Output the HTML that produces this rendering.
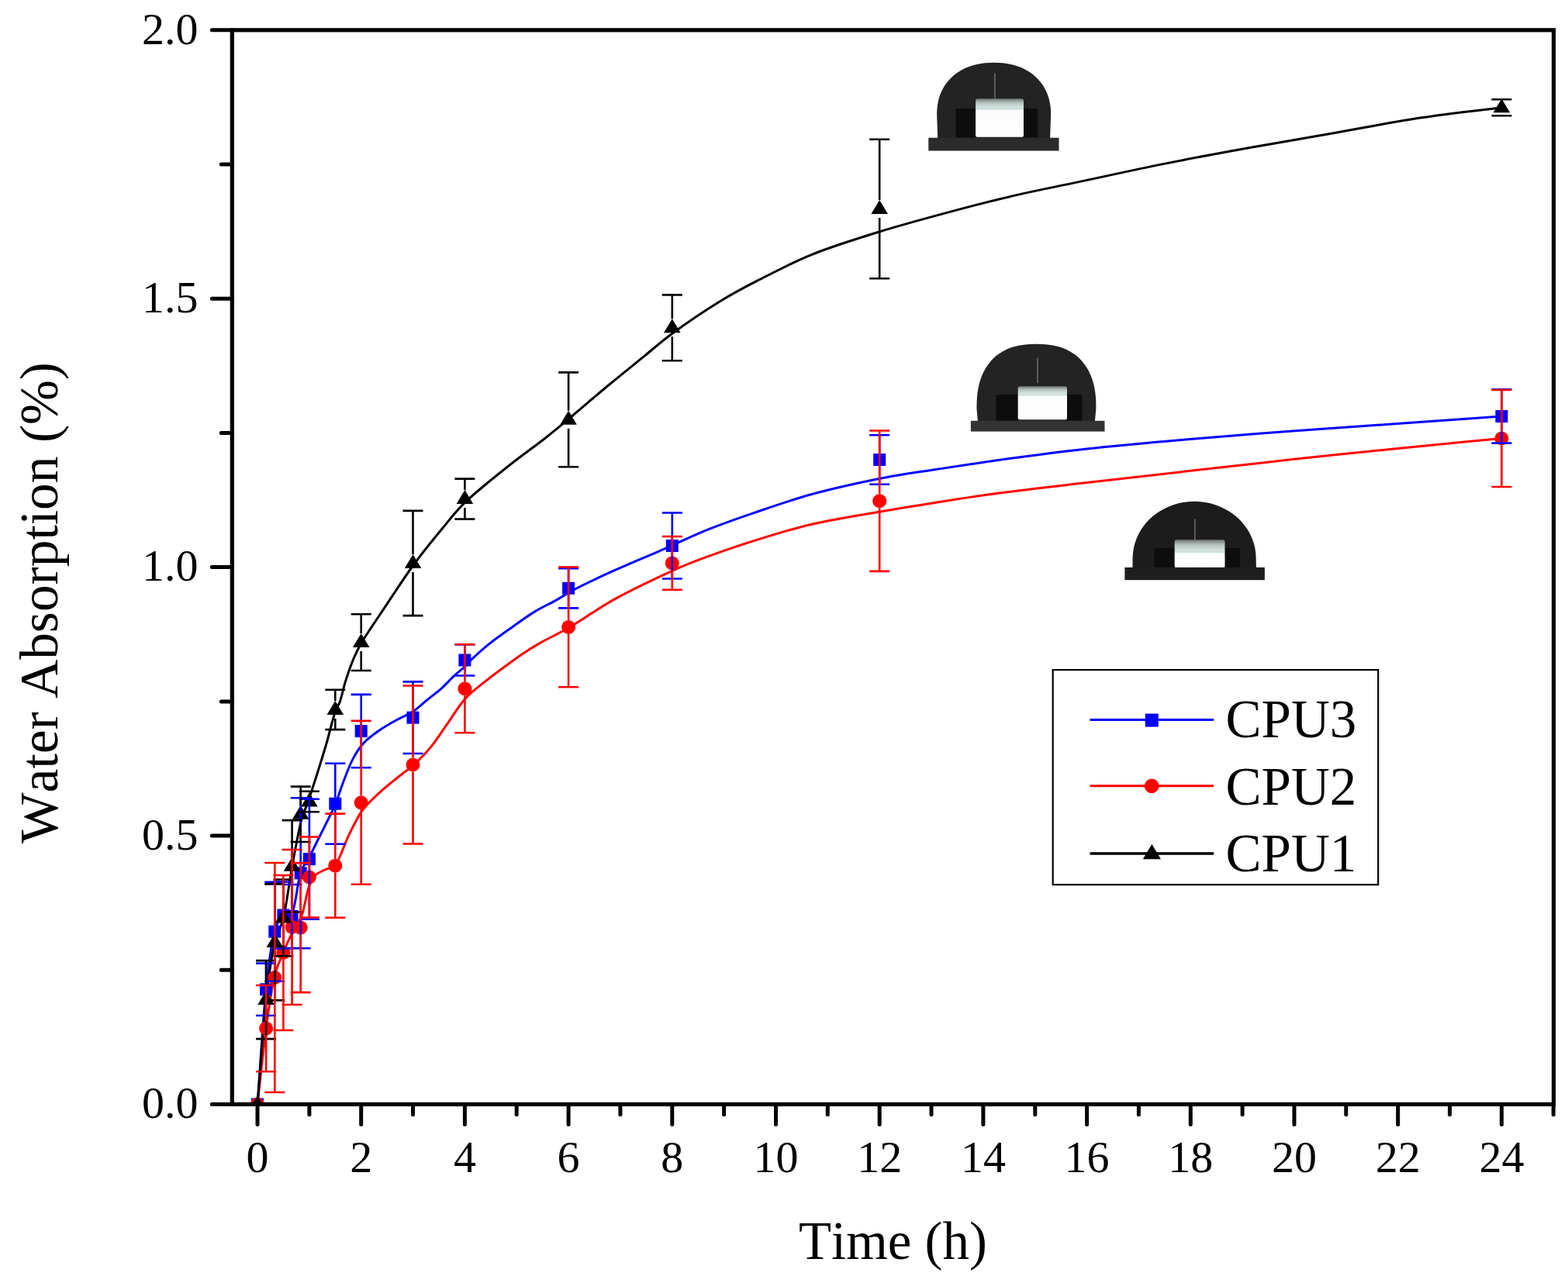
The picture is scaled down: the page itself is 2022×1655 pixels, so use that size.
<!DOCTYPE html>
<html><head><meta charset="utf-8"><title>Water Absorption</title>
<style>
html,body{margin:0;padding:0;background:#fff;}
body{width:2022px;height:1655px;overflow:hidden;}
svg{display:block;}
text{font-family:"Liberation Serif","Times New Roman",serif;fill:#000;font-kerning:none;}
</style></head><body>
<svg width="2022" height="1655" viewBox="0 0 2022 1655">
<rect width="2022" height="1655" fill="#fff"/>

<defs><linearGradient id="bg127" x1="0" y1="0" x2="0" y2="1"><stop offset="0" stop-color="#6e7673"/><stop offset="0.103" stop-color="#b4c0bc"/><stop offset="0.219" stop-color="#d6e2de"/><stop offset="0.257" stop-color="#c4dcdc"/><stop offset="0.317" stop-color="#fbfdfc"/><stop offset="1" stop-color="#ffffff"/></linearGradient></defs><path d="M1209.2,178.2 L1208.15,147.80 1208.29,142.19 1208.72,137.28 1209.44,132.64 1210.43,128.19 1211.70,123.92 1213.25,119.82 1215.07,115.89 1217.16,112.12 1219.50,108.53 1222.10,105.13 1224.94,101.92 1228.01,98.91 1231.32,96.10 1234.84,93.51 1238.57,91.15 1242.51,89.01 1246.64,87.11 1250.96,85.45 1255.46,84.04 1260.14,82.88 1265.01,81.97 1270.11,81.32 1275.49,80.93 1281.65,80.80 1287.81,80.93 1293.19,81.32 1298.29,81.97 1303.16,82.88 1307.84,84.04 1312.34,85.45 1316.66,87.11 1320.79,89.01 1324.73,91.15 1328.46,93.51 1331.98,96.10 1335.29,98.91 1338.36,101.92 1341.20,105.13 1343.80,108.53 1346.14,112.12 1348.23,115.89 1350.05,119.82 1351.60,123.92 1352.87,128.19 1353.86,132.64 1354.58,137.28 1355.01,142.19 1355.15,147.80 L1354.1,178.2 Z" fill="#232323"/><rect x="1232.4" y="140" width="25.7" height="37.7" fill="#0d0d0d"/><rect x="1320" y="140" width="18.3" height="37.7" fill="#0d0d0d"/><rect x="1258.1" y="127.3" width="61.9" height="49.4" rx="2.5" fill="url(#bg127)"/><path d="M1282.9,94.6V127" stroke="#707070" stroke-width="1.5"/><rect x="1197.3" y="177.7" width="168.2" height="16.8" fill="#2b2b2b"/>
<defs><linearGradient id="bg498" x1="0" y1="0" x2="0" y2="1"><stop offset="0" stop-color="#6e7673"/><stop offset="0.100" stop-color="#b4c0bc"/><stop offset="0.213" stop-color="#d6e2de"/><stop offset="0.251" stop-color="#c4dcdc"/><stop offset="0.311" stop-color="#fbfdfc"/><stop offset="1" stop-color="#ffffff"/></linearGradient></defs><path d="M1260.9,543.3 L1259.45,526.80 1259.59,518.25 1260.00,511.59 1260.68,505.54 1261.64,499.89 1262.87,494.57 1264.37,489.52 1266.13,484.74 1268.15,480.22 1270.43,475.94 1272.96,471.92 1275.74,468.14 1278.77,464.62 1282.03,461.36 1285.53,458.36 1289.27,455.63 1293.24,453.18 1297.43,451.00 1301.87,449.10 1306.55,447.49 1311.49,446.16 1316.72,445.13 1322.34,444.39 1328.52,443.95 1336.45,443.80 1344.38,443.95 1350.56,444.39 1356.18,445.13 1361.41,446.16 1366.35,447.49 1371.03,449.10 1375.47,451.00 1379.66,453.18 1383.63,455.63 1387.37,458.36 1390.87,461.36 1394.13,464.62 1397.16,468.14 1399.94,471.92 1402.47,475.94 1404.75,480.22 1406.77,484.74 1408.53,489.52 1410.03,494.57 1411.26,499.89 1412.22,505.54 1412.90,511.59 1413.31,518.25 1413.45,526.80 L1411.9,543.3 Z" fill="#232323"/><rect x="1284.5" y="509" width="28.2" height="33.8" fill="#0d0d0d"/><rect x="1376" y="509" width="19.3" height="33.8" fill="#0d0d0d"/><rect x="1312.7" y="498.2" width="63.3" height="43.1" rx="2.5" fill="url(#bg498)"/><path d="M1337.9,461.6V494.3" stroke="#707070" stroke-width="1.5"/><rect x="1251.9" y="542.8" width="172.6" height="13.8" fill="#333"/>
<defs><linearGradient id="bg696" x1="0" y1="0" x2="0" y2="1"><stop offset="0" stop-color="#6e7673"/><stop offset="0.174" stop-color="#b4c0bc"/><stop offset="0.370" stop-color="#d6e2de"/><stop offset="0.435" stop-color="#c4dcdc"/><stop offset="0.495" stop-color="#fbfdfc"/><stop offset="1" stop-color="#ffffff"/></linearGradient></defs><path d="M1460.5,732.4 L1460.65,720.30 1460.82,715.49 1461.33,710.71 1462.18,705.96 1463.36,701.28 1464.87,696.67 1466.70,692.17 1468.85,687.79 1471.30,683.55 1474.05,679.47 1477.08,675.56 1480.38,671.84 1483.94,668.33 1487.73,665.04 1491.75,661.99 1495.98,659.19 1500.40,656.65 1504.99,654.38 1509.73,652.39 1514.60,650.70 1519.57,649.30 1524.64,648.21 1529.77,647.43 1534.95,646.96 1540.15,646.80 1545.35,646.96 1550.53,647.43 1555.66,648.21 1560.73,649.30 1565.70,650.70 1570.57,652.39 1575.31,654.38 1579.90,656.65 1584.32,659.19 1588.55,661.99 1592.57,665.04 1596.36,668.33 1599.92,671.84 1603.22,675.56 1606.25,679.47 1609.00,683.55 1611.45,687.79 1613.60,692.17 1615.43,696.67 1616.94,701.28 1618.12,705.96 1618.97,710.71 1619.48,715.49 1619.65,720.30 L1619.9,732.4 Z" fill="#1c1c1c"/><rect x="1488.5" y="707" width="26.2" height="24.9" fill="#0d0d0d"/><rect x="1579.5" y="707" width="19.7" height="24.9" fill="#0d0d0d"/><rect x="1514.7" y="696.3" width="64.8" height="36.1" rx="2.5" fill="url(#bg696)"/><path d="M1540.9,669.6V698" stroke="#707070" stroke-width="1.5"/><rect x="1450.4" y="731.9" width="180.5" height="16.3" fill="#1e1e1e"/>
<defs><clipPath id="plotclip"><rect x="299.3" y="38.8" width="1704.2" height="1385.7"/></clipPath></defs>
<g clip-path="url(#plotclip)">
<g fill="none" stroke-width="3.0" stroke-linejoin="round">
<path d="M332,1424.5 C335.7,1375.3 338.7,1320.2 343,1277 C346.1,1246 349.2,1222.2 354,1201.7 C356.7,1190.2 361,1185.5 365.4,1181 C368.5,1177.9 374.3,1184.8 376.6,1179 C381.7,1166.2 383.3,1139.8 387.7,1125 C390.4,1115.9 394.4,1114.1 398,1107.3 C402.5,1098.9 407.3,1088.6 412,1079.3 C416.6,1070 421.9,1059.7 425.9,1051.4 C428.8,1045.4 430.4,1042.8 432.9,1036.4 C436.4,1027.5 440,1015.5 443.9,1005.5 C447.6,995.9 451.2,986 455.8,977.6 C459.9,970 464.2,963.5 469.8,957.6 C475.5,951.6 482.9,946.5 489.7,941.7 C496.2,937.2 502.7,933.6 509.7,929.7 C517,925.6 525.7,922.2 532.6,917.7 C539,913.6 543.7,908.6 549.6,903.8 C556,898.6 563.3,893.3 569.5,887.8 C575.3,882.6 580.2,876.8 585.5,871.9 C590.2,867.5 595.4,863.8 599.5,859.9 C602.9,856.7 604,854.4 608.1,850.6 C614.4,844.7 622.7,837.1 630.8,830.6 C639.3,823.8 648.5,817.4 658,810.7 C668.1,803.5 679.3,795.3 689.7,788.9 C699,783.2 708.1,779.3 716.9,774.4 C725.3,769.7 731.3,765.2 741.4,760 C755,753 771.2,745.3 788,737.7 C807.1,729.1 832,718.7 849.1,711.3 C858.6,707.2 859.6,706.7 868,703 C881,697.2 897,689.4 913.4,682.9 C931.8,675.6 951.2,668.7 972.2,661.6 C995.7,653.6 1020.9,644.6 1047,637.5 C1074.8,629.9 1105.9,623.1 1133.8,617.5 C1159.3,612.4 1182.2,609.4 1207.2,605.5 C1233.3,601.4 1257.9,597.5 1287.3,593.5 C1322,588.8 1360.7,583.6 1399.5,579.3 C1441.1,574.8 1484.7,570.9 1528.5,567.1 C1573.8,563.1 1620.7,559.5 1666.9,556 C1713,552.5 1759.9,549.5 1805.4,546.3 C1849.7,543.2 1892.7,540.1 1936.4,537" stroke="#0000ff"/>
<path d="M332,1424.5 C335.8,1391.2 339.4,1355.1 343.4,1324.7 C346.7,1300.1 349.5,1278.4 353.8,1259.7 C356.9,1246.4 361.6,1238.3 365.5,1228.6 C368.9,1220.1 372,1212.9 375.8,1205.2 C379.7,1197.3 385.4,1190.9 388.8,1181.8 C392.8,1171 394.6,1155.8 397.9,1145.5 C400.2,1138.5 402.1,1134 405.7,1129.9 C409,1126.1 414.2,1124.4 418.7,1122 C423.3,1119.5 428.9,1120.9 432.9,1115.2 C439.3,1106 444,1089.2 449.8,1077.3 C455,1066.6 460.2,1055.9 465.8,1047.4 C470.2,1040.7 474.5,1036.8 479.8,1031.5 C485.8,1025.5 493,1019.2 499.7,1013.5 C506.3,1007.9 513.6,1002.3 519.7,997.5 C524.6,993.7 527.7,992.3 532.6,987.6 C539.6,981 548.5,972.2 555.6,963.6 C562.8,954.9 568.5,945.5 575.5,935.7 C583.2,924.9 590.9,911.6 599.5,901.8 C607.2,893 614.2,888.1 624.5,880 C638.2,869.2 657.7,854.9 671.6,845.1 C681,838.4 685.2,835.8 694.3,830.6 C706,823.9 719.1,818.1 733.8,809.5 C752.2,798.7 772.1,784.2 793.5,772.4 C816.8,759.6 845.4,746.1 868,735.8 C885.4,727.9 897.1,723.6 913.4,717.6 C931.8,710.9 951.2,704.1 972.2,697.6 C995.7,690.3 1020.9,682.2 1047,676.2 C1074.8,669.8 1106,665.1 1133.8,660.2 C1159.4,655.7 1182.2,652.1 1207.2,648.2 C1233.3,644.1 1257.9,640.1 1287.3,636.2 C1322,631.6 1360.7,627.3 1399.5,622.8 C1441.1,618 1484.7,613 1528.5,608.1 C1573.8,603 1620.7,597.6 1666.9,592.6 C1713,587.6 1759.9,582.8 1805.4,578.2 C1849.7,573.7 1892.7,569.7 1936.4,565.5" stroke="#ff0000"/>
<path d="M332,1424.5 C335.7,1379.7 338.8,1329.8 343,1290 C346.1,1260.6 349.6,1237.9 354,1217 C357.1,1202.6 362.3,1198 365.5,1184 C370,1164.3 373.1,1137.6 377,1116 C380.6,1096.3 384.3,1075.7 388,1060 C390.3,1050.4 392.8,1046.2 395,1040 C396.8,1034.8 398,1032 400,1026 C403,1017 406.6,1005.8 410,995 C413.6,983.4 417.4,971.4 421,959 C424.8,945.8 428.6,929.4 432.3,918 C434.4,911.4 436.5,910.5 438.4,905 C440.9,897.5 442.7,887.9 445.5,879 C448.5,869.5 452.1,859 455.8,850 C459.2,842 461.4,837 466.8,828 C474.8,814.8 485.6,799.3 496.1,783.6 C507.9,766 520.9,745.6 533.7,728 C545.9,711.3 559.2,695.2 571.2,680.7 C581.5,668.3 588.1,659 600.4,647.4 C615.9,632.8 636.7,616.3 654.6,602 C671.5,588.5 689.4,576 704.6,564 C717.3,554 726.2,546.3 738.5,536 C753,523.8 769.7,509.3 785.2,496.5 C800.2,484.1 815.6,471.8 829.9,460.2 C842.9,449.6 852.7,440.6 867.2,430 C885,417.1 907.4,401.8 926.8,389.8 C944.2,379 958.9,371.2 977.5,361.7 C999,350.7 1022.1,338.3 1047,328.3 C1074.2,317.4 1103.6,308.3 1133.8,299 C1166,289.1 1202.2,279.4 1234,270.9 C1262.3,263.3 1287.6,257 1314,250.9 C1339.6,245 1361.8,240.9 1390,234.9 C1424.1,227.7 1463.8,218.8 1500.8,211.4 C1537.7,204 1574.6,197.3 1611.5,190.6 C1648.4,183.9 1685.4,177.7 1722.3,171.2 C1759.2,164.7 1796.6,157.3 1833,151.8 C1868,146.5 1901.9,143.1 1936.4,138.8" stroke="#000"/>
</g>
<g fill="#0000ff"><rect x="324" y="1416.5" width="16" height="16"/><rect x="335.1" y="1268.3" width="16" height="16"/><rect x="346.3" y="1193.7" width="16" height="16"/><rect x="357.4" y="1172.5" width="16" height="16"/><rect x="368.6" y="1174" width="16" height="16"/><rect x="379.7" y="1118.3" width="16" height="16"/><rect x="390.9" y="1100.2" width="16" height="16"/><rect x="424.3" y="1028.7" width="16" height="16"/><rect x="457.7" y="935.1" width="16" height="16"/><rect x="524.5" y="917.7" width="16" height="16"/><rect x="591.4" y="843.5" width="16" height="16"/><rect x="725.1" y="750.8" width="16" height="16"/><rect x="858.8" y="696" width="16" height="16"/><rect x="1126.2" y="585" width="16" height="16"/><rect x="1928.4" y="529" width="16" height="16"/></g>
<g fill="#ff0000"><circle cx="332" cy="1424.5" r="9"/><circle cx="343.1" cy="1326.6" r="9"/><circle cx="354.3" cy="1261" r="9"/><circle cx="365.4" cy="1229" r="9"/><circle cx="376.6" cy="1196" r="9"/><circle cx="387.7" cy="1196.6" r="9"/><circle cx="398.9" cy="1131.5" r="9"/><circle cx="432.3" cy="1116.7" r="9"/><circle cx="465.7" cy="1035.3" r="9"/><circle cx="532.5" cy="986.5" r="9"/><circle cx="599.4" cy="888.3" r="9"/><circle cx="733.1" cy="808.9" r="9"/><circle cx="866.8" cy="726.4" r="9"/><circle cx="1134.2" cy="646.2" r="9"/><circle cx="1936.4" cy="565.5" r="9"/></g>
<g fill="#000"><path d="M332,1413L342.8,1431L321.2,1431Z"/><path d="M343.1,1278.1L353.9,1296.1L332.3,1296.1Z"/><path d="M354.3,1203.9L365.1,1221.9L343.5,1221.9Z"/><path d="M365.4,1172.4L376.2,1190.4L354.6,1190.4Z"/><path d="M376.6,1105.8L387.4,1123.8L365.8,1123.8Z"/><path d="M387.7,1038.8L398.5,1056.8L376.9,1056.8Z"/><path d="M398.9,1022.5L409.7,1040.5L388.1,1040.5Z"/><path d="M432.3,903.9L443.1,921.9L421.5,921.9Z"/><path d="M465.7,817.1L476.5,835.1L454.9,835.1Z"/><path d="M532.5,715L543.3,733L521.8,733Z"/><path d="M599.4,632.1L610.2,650.1L588.6,650.1Z"/><path d="M733.1,529.8L743.9,547.8L722.3,547.8Z"/><path d="M866.8,411.3L877.6,429.3L856,429.3Z"/><path d="M1134.2,258L1145,276L1123.4,276Z"/><path d="M1936.4,127.3L1947.2,145.3L1925.6,145.3Z"/></g>
<g fill="none" stroke-width="2.6">
<g stroke="#0000ff"><path d="M343.1,1242.6V1268.3M343.1,1284.3V1310M330.1,1242.6H356.1M330.1,1310H356.1"/><path d="M354.3,1137.7V1193.7M354.3,1209.7V1265.7M341.3,1137.7H367.3M341.3,1265.7H367.3"/><path d="M365.4,1137.5V1172.5M365.4,1188.5V1223.5M352.4,1137.5H378.4M352.4,1223.5H378.4"/><path d="M376.6,1141V1174M376.6,1190V1223M363.6,1141H389.6M363.6,1223H389.6"/><path d="M387.7,1029.3V1118.3M387.7,1134.3V1223.3M374.7,1029.3H400.7M374.7,1223.3H400.7"/><path d="M398.9,1030.7V1100.2M398.9,1116.2V1185.7M385.9,1030.7H411.9M385.9,1185.7H411.9"/><path d="M432.3,984.7V1028.7M432.3,1044.7V1088.7M419.3,984.7H445.3M419.3,1088.7H445.3"/><path d="M465.7,895.9V935.1M465.7,951.1V990.3M452.7,895.9H478.7M452.7,990.3H478.7"/><path d="M532.5,879.4V917.7M532.5,933.7V972M519.5,879.4H545.5M519.5,972H545.5"/><path d="M599.4,831.5V843.5M599.4,859.5V871.5M586.4,831.5H612.4M586.4,871.5H612.4"/><path d="M733.1,733.2V750.8M733.1,766.8V784.4M720.1,733.2H746.1M720.1,784.4H746.1"/><path d="M866.8,661.5V696M866.8,712V746.5M853.8,661.5H879.8M853.8,746.5H879.8"/><path d="M1134.2,561.3V585M1134.2,601V624.7M1121.2,561.3H1147.2M1121.2,624.7H1147.2"/><path d="M1936.4,502.4V529M1936.4,545V571.6M1923.4,502.4H1949.4M1923.4,571.6H1949.4"/></g>
<g stroke="#000"><path d="M343.1,1239.1V1278.1M343.1,1301.1V1340.1M330.1,1239.1H356.1M330.1,1340.1H356.1"/><path d="M354.3,1140.4V1203.9M354.3,1226.9V1290.4M341.3,1140.4H367.3M341.3,1290.4H367.3"/><path d="M365.4,1134.5V1172.4M365.4,1195.4V1233.3M352.4,1134.5H378.4M352.4,1233.3H378.4"/><path d="M376.6,1058.1V1105.8M376.6,1128.8V1176.5M363.6,1058.1H389.6M363.6,1176.5H389.6"/><path d="M387.7,1014.6V1038.8M387.7,1061.8V1086M374.7,1014.6H400.7M374.7,1086H400.7"/><path d="M398.9,1020.8V1022.5M398.9,1045.5V1047.2M385.9,1020.8H411.9M385.9,1047.2H411.9"/><path d="M432.3,889.7V903.9M432.3,926.9V941.1M419.3,889.7H445.3M419.3,941.1H445.3"/><path d="M465.7,792.2V817.1M465.7,840.1V865M452.7,792.2H478.7M452.7,865H478.7"/><path d="M532.5,658.9V715M532.5,738V794.1M519.5,658.9H545.5M519.5,794.1H545.5"/><path d="M599.4,617.6V632.1M599.4,655.1V669.6M586.4,617.6H612.4M586.4,669.6H612.4"/><path d="M733.1,480.4V529.8M733.1,552.8V602.2M720.1,480.4H746.1M720.1,602.2H746.1"/><path d="M866.8,380.4V411.3M866.8,434.3V465.2M853.8,380.4H879.8M853.8,465.2H879.8"/><path d="M1134.2,179.7V258M1134.2,281V359.3M1121.2,179.7H1147.2M1121.2,359.3H1147.2"/><path d="M1923.4,128.3H1949.4M1923.4,149.3H1949.4"/></g>
<g stroke="#ff0000"><path d="M343.1,1271V1317.6M343.1,1335.6V1382.2M330.1,1271H356.1M330.1,1382.2H356.1"/><path d="M354.3,1113V1252M354.3,1270V1409M341.3,1113H367.3M341.3,1409H367.3"/><path d="M365.4,1129V1220M365.4,1238V1329M352.4,1129H378.4M352.4,1329H378.4"/><path d="M376.6,1096V1187M376.6,1205V1296M363.6,1096H389.6M363.6,1296H389.6"/><path d="M387.7,1113.1V1187.6M387.7,1205.6V1280.1M374.7,1113.1H400.7M374.7,1280.1H400.7"/><path d="M398.9,1079.5V1122.5M398.9,1140.5V1183.5M385.9,1079.5H411.9M385.9,1183.5H411.9"/><path d="M432.3,1049.6V1107.7M432.3,1125.7V1183.8M419.3,1049.6H445.3M419.3,1183.8H445.3"/><path d="M465.7,929.9V1026.3M465.7,1044.3V1140.7M452.7,929.9H478.7M452.7,1140.7H478.7"/><path d="M532.5,884.5V977.5M532.5,995.5V1088.5M519.5,884.5H545.5M519.5,1088.5H545.5"/><path d="M599.4,831.3V879.3M599.4,897.3V945.3M586.4,831.3H612.4M586.4,945.3H612.4"/><path d="M733.1,731.5V799.9M733.1,817.9V886.3M720.1,731.5H746.1M720.1,886.3H746.1"/><path d="M866.8,692V717.4M866.8,735.4V760.8M853.8,692H879.8M853.8,760.8H879.8"/><path d="M1134.2,555.5V637.2M1134.2,655.2V736.9M1121.2,555.5H1147.2M1121.2,736.9H1147.2"/><path d="M1936.4,503V556.5M1936.4,574.5V628M1923.4,503H1949.4M1923.4,628H1949.4"/></g>
</g>
</g>
<rect x="299.3" y="38.8" width="1704.2" height="1385.7" fill="none" stroke="#000" stroke-width="5.2"/>
<path d="M273.3,1424.5H299.3M273.3,1078.1H299.3M273.3,731.6H299.3M273.3,385.2H299.3M273.3,38.8H299.3M285.3,1251.3H299.3M285.3,904.9H299.3M285.3,558.4H299.3M285.3,212H299.3M332,1424.5V1450.5M398.9,1424.5V1437.7M465.7,1424.5V1450.5M532.5,1424.5V1437.7M599.4,1424.5V1450.5M666.2,1424.5V1437.7M733.1,1424.5V1450.5M799.9,1424.5V1437.7M866.8,1424.5V1450.5M933.6,1424.5V1437.7M1000.5,1424.5V1450.5M1067.3,1424.5V1437.7M1134.2,1424.5V1450.5M1201,1424.5V1437.7M1267.9,1424.5V1450.5M1334.8,1424.5V1437.7M1401.6,1424.5V1450.5M1468.4,1424.5V1437.7M1535.3,1424.5V1450.5M1602.1,1424.5V1437.7M1669,1424.5V1450.5M1735.8,1424.5V1437.7M1802.7,1424.5V1450.5M1869.5,1424.5V1437.7M1936.4,1424.5V1450.5M2003.2,1424.5V1437.7" stroke="#000" stroke-width="5.0" stroke-linecap="round" fill="none"/>
<g font-size="58"><text x="255.5" y="1442.3" text-anchor="end">0.0</text><text x="255.5" y="1095.9" text-anchor="end">0.5</text><text x="255.5" y="749.4" text-anchor="end">1.0</text><text x="255.5" y="403" text-anchor="end">1.5</text><text x="255.5" y="56.6" text-anchor="end">2.0</text><text x="332" y="1512" text-anchor="middle">0</text><text x="465.7" y="1512" text-anchor="middle">2</text><text x="599.4" y="1512" text-anchor="middle">4</text><text x="733.1" y="1512" text-anchor="middle">6</text><text x="866.8" y="1512" text-anchor="middle">8</text><text x="1000.5" y="1512" text-anchor="middle">10</text><text x="1134.2" y="1512" text-anchor="middle">12</text><text x="1267.9" y="1512" text-anchor="middle">14</text><text x="1401.6" y="1512" text-anchor="middle">16</text><text x="1535.3" y="1512" text-anchor="middle">18</text><text x="1669" y="1512" text-anchor="middle">20</text><text x="1802.7" y="1512" text-anchor="middle">22</text><text x="1936.4" y="1512" text-anchor="middle">24</text></g>
<text x="1029.9" y="1623.8" font-size="70" textLength="243" lengthAdjust="spacingAndGlyphs">Time (h)</text>
<text transform="translate(73.8,1088) rotate(-90)" x="0" y="0" font-size="70" textLength="621" lengthAdjust="spacingAndGlyphs">Water Absorption (%)</text>
<rect x="1357.7" y="864.1" width="419.5" height="277.1" fill="#fff" stroke="#000" stroke-width="2.2"/>
<path d="M1405.5,928.5H1565.2" stroke="#0000ff" stroke-width="3.0"/><rect x="1476.8" y="920.6" width="17" height="17" fill="#0000ff"/><path d="M1405.5,1013.8H1565.2" stroke="#ff0000" stroke-width="3.0"/><circle cx="1485.2" cy="1013.8" r="9.3" fill="#ff0000"/><path d="M1405.5,1100.9H1565.2" stroke="#000" stroke-width="3.5"/><path d="M1485.4,1088.9L1497,1108.2L1473.8,1108.2Z" fill="#000"/><g font-size="69"><text x="1580.5" y="951.2">CPU3</text><text x="1580.5" y="1037.7">CPU2</text><text x="1580.5" y="1124.1">CPU1</text></g>
</svg>
</body></html>
